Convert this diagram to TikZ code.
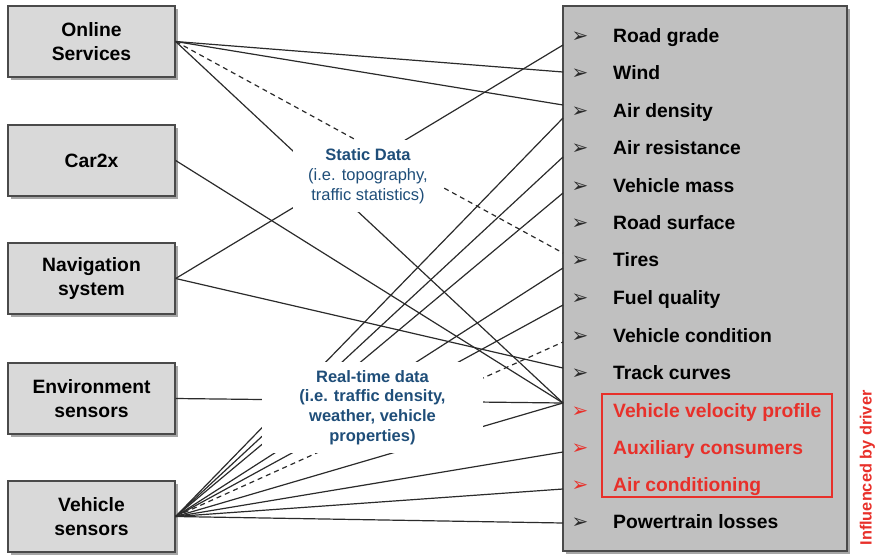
\documentclass[tikz,border=0pt]{standalone}
\usepackage{fontspec}
\setmainfont{Liberation Sans}
\newfontfamily\symfont{DejaVu Sans}
\usetikzlibrary{shadows}

\definecolor{boxgray}{HTML}{D9D9D9}
\definecolor{panelgray}{HTML}{C0C0C0}
\definecolor{edgegray}{HTML}{4A4A4A}
\definecolor{linegray}{HTML}{2B2B2B}
\definecolor{labelblue}{HTML}{1F4E79}
\definecolor{driverred}{HTML}{E8302A}

\begin{document}
\begin{tikzpicture}[x=1pt,y=-1pt,
  boxshadow/.style={drop shadow={shadow xshift=2.5pt, shadow yshift=-2.5pt, opacity=0.35, fill=black}},
  srcbox/.style={draw=edgegray, line width=1.3pt, fill=boxgray, minimum width=167pt,
    minimum height=71pt, inner sep=0pt, align=center,
    font=\fontsize{19.3}{24}\selectfont\bfseries, boxshadow},
  item/.style={anchor=base west, inner sep=0pt, font=\fontsize{19.3}{23}\selectfont\bfseries},
  bullet/.style={anchor=base, inner sep=0pt, font=\fontsize{20}{22}\selectfont\symfont},
  link/.style={draw=linegray, line width=1.2pt},
  dlink/.style={link, dash pattern=on 5pt off 4pt},
  datalabel/.style={fill=white, inner sep=0pt, align=center, text=labelblue}
]
\useasboundingbox (0,0) rectangle (876,555);

% source boxes
\node[srcbox] (os)  at (91.5,41.5)  {Online\\Services};
\node[srcbox] (c2x) at (91.5,160.5) {Car2x};
\node[srcbox] (nav) at (91.5,278.5) {Navigation\\system};
\node[srcbox] (env) at (91.5,398.5) {Environment\\sensors};
\node[srcbox] (vs)  at (91.5,516.5) {Vehicle\\sensors};

% influence panel
\node[draw=edgegray, line width=1.3pt, fill=panelgray, minimum width=284pt,
  minimum height=545pt, inner sep=0pt, boxshadow] (panel) at (705,278.5) {};

% factor list
\foreach \t/\y [count=\k] in {Road grade/42.5, Wind/79.5, Air density/117.5,
    Air resistance/154.5, Vehicle mass/192, Road surface/229, Tires/266.5,
    Fuel quality/304, Vehicle condition/342, Track curves/379}{
  \node[bullet, text=linegray] (b\k) at (580,\y) {➢};
  \node[item] (i\k) at (613,\y) {\t};
}
\foreach \t/\y [count=\k from 11] in {Vehicle velocity profile/417,
    Auxiliary consumers/454, Air conditioning/491}{
  \node[bullet, text=driverred] (b\k) at (580,\y) {➢};
  \node[item, text=driverred] (i\k) at (613,\y) {\t};
}
\node[bullet, text=linegray] (b14) at (580,528) {➢};
\node[item] (i14) at (613,528) {Powertrain losses};

% driver-influenced group
\node[draw=driverred, line width=1.8pt, minimum width=230pt, minimum height=103pt,
  inner sep=0pt] (drvbox) at (717,445.5) {};
\node[rotate=90, text=driverred, inner sep=0pt,
  font=\fontsize{16.3}{18}\selectfont\bfseries] (drv) at (867.5,468) {Influenced by driver};

% entry points on the panel edge
\coordinate (eRoad)   at (563,45);
\coordinate (eWind)   at (563,72);
\coordinate (eAirDa)  at (563,105);
\coordinate (eAirDb)  at (563,118);
\coordinate (eAirR)   at (563,157);
\coordinate (eMass)   at (563,193);
\coordinate (eTiresa) at (563,253);
\coordinate (eTiresb) at (563,268);
\coordinate (eFuel)   at (563,305);
\coordinate (eCond)   at (563,342);
\coordinate (eTrack)  at (563,368);
\coordinate (eVel)    at (563,403);
\coordinate (eAux)    at (563,452);
\coordinate (eAC)     at (563,489);
\coordinate (ePT)     at (563,523);

% connections
\draw[link]  (os.east) -- (eWind);
\draw[link]  (os.east) -- (eAirDa);
\draw[dlink] (os.east) -- (eTiresa);
\draw[link]  (os.east) -- (eVel);
\draw[link]  (c2x.east) -- (eVel);
\draw[link]  (nav.east) -- (eRoad);
\draw[link]  (nav.east) -- (eTrack);
\draw[link]  (env.east) -- (eVel);
\draw[link]  (vs.east) -- (eAirDb);
\draw[link]  (vs.east) -- (eAirR);
\draw[link]  (vs.east) -- (eMass);
\draw[link]  (vs.east) -- (eTiresb);
\draw[link]  (vs.east) -- (eFuel);
\draw[dlink] (vs.east) -- (eCond);
\draw[link]  (vs.east) -- (eVel);
\draw[link]  (vs.east) -- (eAux);
\draw[link]  (vs.east) -- (eAC);
\draw[link]  (vs.east) -- (ePT);

% data category labels
\node[datalabel, minimum width=150pt, minimum height=72pt,
  font=\fontsize{16.5}{20}\selectfont] (static) at (368,176)
  {{\bfseries Static Data}\\(i.e. topography,\\traffic statistics)};
\node[datalabel, minimum width=221pt, minimum height=91pt,
  font=\fontsize{16.5}{19.7}\selectfont\bfseries] (rt) at (372.5,407.5)
  {Real-time data\\(i.e. traffic density,\\weather, vehicle\\properties)};
\end{tikzpicture}
\end{document}
